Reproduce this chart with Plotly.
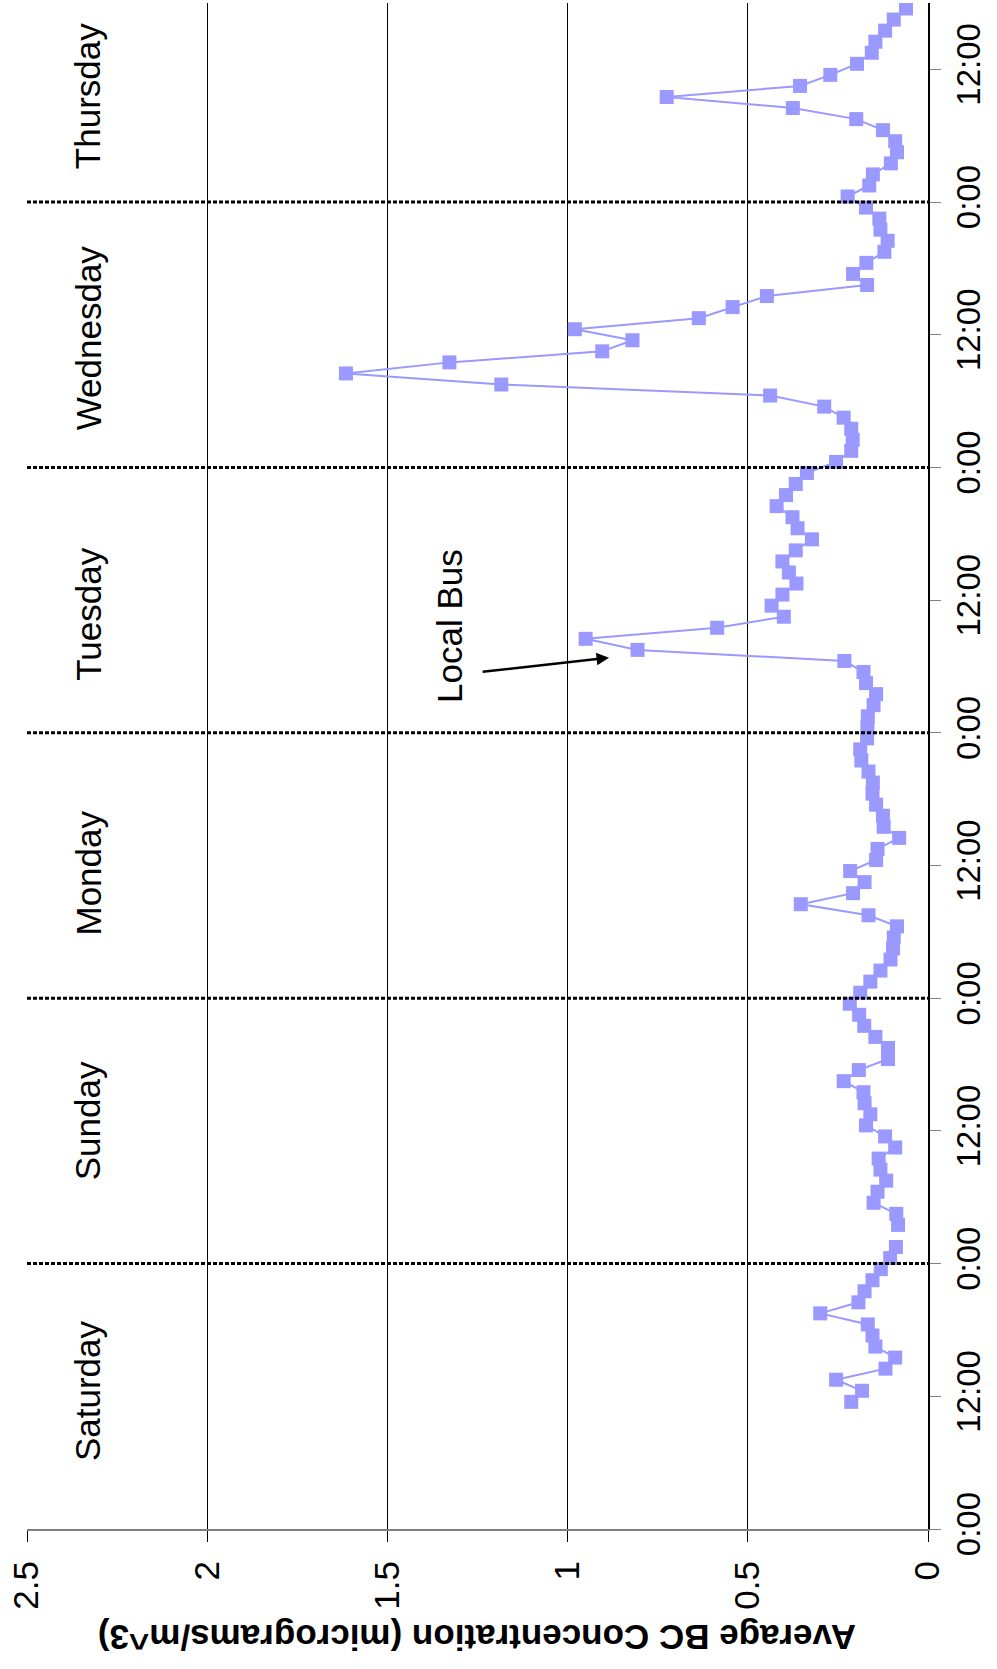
import plotly.graph_objects as go

# Hourly-average black carbon concentration (micrograms/m^3), one list per day.
days = ["Saturday", "Sunday", "Monday", "Tuesday", "Wednesday", "Thursday"]
first_hour = [11, 0, 0, 0, 0, 0]  # first hour with a reading on each day

saturday = [0.213, 0.183, 0.255, 0.118, 0.091, 0.146, 0.154, 0.167, 0.299,
            0.193, 0.176, 0.154, 0.131]
sunday = [0.105, 0.089, None, 0.083, 0.088, 0.151, 0.140, 0.116, 0.132, 0.137,
          0.091, 0.119, 0.172, 0.160, 0.176, 0.179, 0.234, 0.192, 0.111, 0.111,
          0.146, 0.177, 0.191, 0.217]
monday = [0.188, 0.160, 0.132, 0.104, 0.097, 0.095, 0.086, 0.165, 0.353, 0.208,
          0.176, 0.216, 0.144, 0.140, 0.080, 0.123, 0.125, 0.144, 0.154, 0.153,
          0.165, 0.185, 0.188, 0.169]
tuesday = [0.168, 0.167, 0.151, 0.144, 0.172, 0.179, 0.232, 0.806, 0.950, 0.585,
           0.400, 0.434, 0.404, 0.365, 0.386, 0.404, 0.367, 0.322, 0.362, 0.376,
           0.420, 0.394, 0.367, 0.336]
wednesday = [0.255, 0.213, 0.209, 0.213, 0.234, 0.288, 0.438, 1.184, 1.615, 1.328,
             0.904, 0.820, 0.980, 0.636, 0.542, 0.447, 0.169, 0.208, 0.171, 0.121,
             0.112, 0.132, 0.135, 0.172]
thursday = [0.223, 0.163, 0.153, 0.103, 0.086, 0.091, 0.125, 0.199, 0.375, 0.725,
            0.355, 0.271, 0.197, 0.156, 0.146, 0.119, 0.095, 0.061]

daily_values = [saturday, sunday, monday, tuesday, wednesday, thursday]

time_ticks = list(range(0, 133, 12))
time_labels = ["0:00", "12:00"] * 6
conc_ticks = [0, 0.5, 1, 1.5, 2, 2.5]
conc_labels = ["0", "0.5", "1", "1.5", "2", "2.5"]

# hours since Saturday 0:00, each reading placed at the middle of its hour
hours, conc = [], []
for d, vals in enumerate(daily_values):
    for i, v in enumerate(vals):
        hours.append(d * 24 + first_hour[d] + i + 0.5)
        conc.append(v)

FONT = "Liberation Sans, Arial, sans-serif"
COLOR = "#9999FF"

fig = go.Figure()
fig.add_trace(go.Scatter(
    x=conc, y=hours, mode="lines+markers", connectgaps=False,
    line=dict(color=COLOR, width=2),
    marker=dict(symbol="square", size=14, color=COLOR),
    hoverinfo="skip", showlegend=False,
))

# dotted separators at midnight between days
for d in range(1, len(days)):
    fig.add_shape(type="line", xref="paper", x0=0, x1=1, yref="y",
                  y0=d * 24, y1=d * 24, layer="above",
                  line=dict(color="black", width=3, dash="4px,2px"))

# day name placement (hours since Saturday 0:00) for the text boxes
label_hours = [12.5, 36.9, 59.3, 82.7, 107.7, 129.6]
for name, h in zip(days, label_hours):
    fig.add_annotation(x=2.33, y=h, xref="x", yref="y", text=name,
                       textangle=-90, showarrow=False,
                       font=dict(family=FONT, size=35, color="black"))

fig.add_annotation(x=1.328, y=81.7, xref="x", yref="y", text="Local Bus",
                   textangle=-90, showarrow=False,
                   font=dict(family=FONT, size=35, color="black"))
fig.add_annotation(x=0.885, y=78.8, xref="x", yref="y", ax=1.24, ay=77.5,
                   axref="x", ayref="y", text="", showarrow=True,
                   arrowhead=2, arrowsize=1, arrowwidth=2.5, arrowcolor="black")

fig.add_annotation(x=0.5, y=-0.071, xref="paper", yref="paper",
                   xanchor="center", yanchor="middle",
                   text="<b>Average BC Concentration (micrograms/m^3)</b>",
                   textangle=180, showarrow=False,
                   font=dict(family=FONT, size=35, color="black"))

fig.update_layout(
    width=997, height=1669,
    margin=dict(l=27, r=69, t=3, b=140),
    paper_bgcolor="white", plot_bgcolor="white",
    font=dict(family=FONT, size=32, color="black"),
    xaxis=dict(range=[2.5, 0], tickvals=conc_ticks, ticktext=conc_labels,
               tickangle=-90, showgrid=True, gridcolor="black", gridwidth=1,
               zeroline=False, showline=True, linecolor="#808080", linewidth=2,
               ticks="outside", ticklen=11, tickcolor="black",
               ticklabelstandoff=5,
               tickfont=dict(family=FONT, size=35)),
    yaxis=dict(range=[0, 138], side="right", tickvals=time_ticks,
               ticktext=time_labels, tickangle=-90, showgrid=False,
               zeroline=False, showline=True, linecolor="black", linewidth=1.5,
               ticks="outside", ticklen=11, tickcolor="#808080",
               tickfont=dict(family=FONT, size=33)),
)

fig.write_html("out.html")
